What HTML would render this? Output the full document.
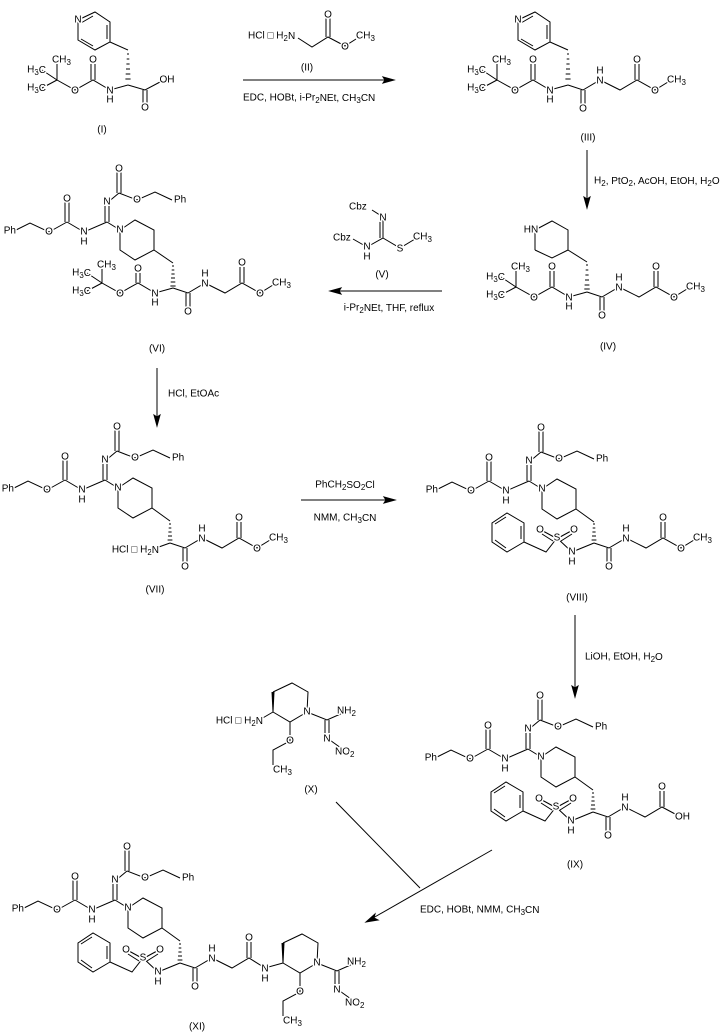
<!DOCTYPE html>
<html><head><meta charset="utf-8"><style>
html,body{margin:0;padding:0;background:#fff;}
svg{display:block;}
text{font-family:"Liberation Sans",sans-serif;font-size:10px;fill:#000;text-anchor:middle;dominant-baseline:central;stroke:#fff;stroke-width:3px;paint-order:stroke;stroke-linejoin:round;}
text.s{text-anchor:start;}
text.e{text-anchor:end;}
text.n{stroke:none;}
path,line{stroke:#000;stroke-width:1;fill:none;}
.f{fill:#000;}
</style></head><body>
<svg width="721" height="1036" viewBox="0 0 721 1036" xmlns="http://www.w3.org/2000/svg">

<!-- ========== (I) alpha (128,85) ========== -->
<g transform="translate(128,85)">
<path d="M0,-35 L-18,-43 M-18,-43 L-18,-63 L-33,-73 L-50,-65 L-50,-45 L-33,-35 Z M-21,-46 L-21,-60 M-35,-39 L-47,-46 M-35,-69 L-47,-62"/>
<path d="M-1,-31h2 M-1.3,-26h2.6 M-1.6,-21h3.2 M-2,-16h4 M-2.3,-11h4.6 M-2.6,-6h5.2"/>
<path d="M0,0 L-18,5 L-35,-5 L-53,5 L-71,-5 L-71,-21 M-71,-5 L-86,-15 M-71,-5 L-86,3 M-37,-5 L-37,-21 M-33,-5 L-33,-21"/>
<path d="M0,0 L17,5 L32,-3 M15,5 L15,20 M19,5 L19,20"/>
<text x="-50" y="-65">N</text>
<text x="-18" y="6">N</text><text x="-18" y="15">H</text>
<text x="-35" y="-25">O</text><text x="-53" y="6">O</text>
<text class="s" x="-76" y="-25">CH<tspan dy="2" font-size="8">3</tspan></text>
<text class="e" x="-82" y="-15">H<tspan dy="2" font-size="8">3</tspan><tspan dy="-2">C</tspan></text>
<text class="e" x="-82" y="3">H<tspan dy="2" font-size="8">3</tspan><tspan dy="-2">C</tspan></text>
<text x="17" y="23">O</text><text x="39" y="-5">OH</text>
</g>
<text class="n" x="102" y="130">(I)</text>

<!-- ========== (II) + arrow ========== -->
<text class="s" x="248" y="36">HCl □ H<tspan dy="2" font-size="8">2</tspan><tspan dy="-2">N</tspan></text>
<path d="M298,38 L312,47 L328,37 L345,46 L356,39 M326,37 L326,18 M330,37 L330,18"/>
<text x="328" y="15">O</text><text x="345" y="47">O</text>
<text class="s" x="356" y="36">CH<tspan dy="2" font-size="8">3</tspan></text>
<text class="n" x="307" y="68">(II)</text>
<line x1="243" y1="80" x2="388" y2="80"/><path class="f" d="M394,80 L383,77 L385,80 L383,83 Z"/>
<text class="s n" x="243" y="98">EDC, HOBt, i-Pr<tspan dy="2" font-size="8">2</tspan><tspan dy="-2">NEt, CH</tspan><tspan dy="2" font-size="8">3</tspan><tspan dy="-2">CN</tspan></text>

<!-- ========== (III) alpha (568,85) ========== -->
<g transform="translate(568,85)">
<path d="M0,-35 L-18,-43 M-18,-43 L-18,-63 L-33,-73 L-50,-65 L-50,-45 L-33,-35 Z M-21,-46 L-21,-60 M-35,-39 L-47,-46 M-35,-69 L-47,-62"/>
<path d="M-1,-31h2 M-1.3,-26h2.6 M-1.6,-21h3.2 M-2,-16h4 M-2.3,-11h4.6 M-2.6,-6h5.2"/>
<path d="M0,0 L-18,5 L-35,-5 L-53,5 L-71,-5 L-71,-21 M-71,-5 L-86,-15 M-71,-5 L-86,3 M-37,-5 L-37,-21 M-33,-5 L-33,-21"/>
<path d="M0,0 L15,5 L32,-5 L52,5 L69,-5 L87,5 L100,-3 M13,5 L13,20 M17,5 L17,20 M67,-5 L67,-21 M71,-5 L71,-21"/>
<text x="-50" y="-65">N</text>
<text x="-18" y="6">N</text><text x="-18" y="15">H</text>
<text x="-35" y="-25">O</text><text x="-53" y="6">O</text>
<text class="s" x="-76" y="-25">CH<tspan dy="2" font-size="8">3</tspan></text>
<text class="e" x="-82" y="-15">H<tspan dy="2" font-size="8">3</tspan><tspan dy="-2">C</tspan></text>
<text class="e" x="-82" y="3">H<tspan dy="2" font-size="8">3</tspan><tspan dy="-2">C</tspan></text>
<text x="15" y="24">O</text><text x="32" y="-4">N</text><text x="32" y="-14">H</text>
<text x="69" y="-25">O</text><text x="87" y="6">O</text>
<text class="s" x="99" y="-5">CH<tspan dy="2" font-size="8">3</tspan></text>
</g>
<text class="n" x="588" y="138">(III)</text>

<!-- arrow III->IV -->
<line x1="587" y1="150" x2="587" y2="202"/><path class="f" d="M587,208 L584,197 L587,199 L590,197 Z"/>
<text class="s n" x="594" y="181">H<tspan dy="2" font-size="8">2</tspan><tspan dy="-2">, PtO</tspan><tspan dy="2" font-size="8">2</tspan><tspan dy="-2">, AcOH, EtOH, H</tspan><tspan dy="2" font-size="8">2</tspan><tspan dy="-2">O</tspan></text>

<!-- ========== (IV) alpha (587,292) ========== -->
<g transform="translate(587,292)">
<path d="M0,-30 L-19,-42 L-19,-62 L-35,-71 L-52,-62 M-52,-42 L-35,-34 L-19,-42 M-52,-62 L-52,-42"/>
<path d="M-1,-27h2 M-1.3,-22h2.6 M-1.6,-17h3.2 M-2,-12h4 M-2.4,-7h4.8 M-2.7,-3h5.4"/>
<path d="M0,0 L-18,5 L-35,-5 L-53,5 L-71,-5 L-71,-21 M-71,-5 L-86,-15 M-71,-5 L-86,3 M-37,-5 L-37,-21 M-33,-5 L-33,-21"/>
<path d="M0,0 L15,5 L32,-5 L52,5 L69,-5 L87,5 L100,-3 M13,5 L13,20 M17,5 L17,20 M67,-5 L67,-21 M71,-5 L71,-21"/>
<text x="-56" y="-62">HN</text>
<text x="-18" y="6">N</text><text x="-18" y="15">H</text>
<text x="-35" y="-25">O</text><text x="-53" y="6">O</text>
<text class="s" x="-76" y="-25">CH<tspan dy="2" font-size="8">3</tspan></text>
<text class="e" x="-82" y="-15">H<tspan dy="2" font-size="8">3</tspan><tspan dy="-2">C</tspan></text>
<text class="e" x="-82" y="3">H<tspan dy="2" font-size="8">3</tspan><tspan dy="-2">C</tspan></text>
<text x="15" y="24">O</text><text x="32" y="-4">N</text><text x="32" y="-14">H</text>
<text x="69" y="-25">O</text><text x="87" y="6">O</text>
<text class="s" x="99" y="-5">CH<tspan dy="2" font-size="8">3</tspan></text>
</g>
<text class="n" x="608" y="347">(IV)</text>

<!-- ========== (V) + arrow ========== -->
<path d="M372,210 L383,217 M383,220 L383,238 M380,220 L380,238 M383,238 L367,247 M367,247 L353,239 M383,238 L400,248 L415,239"/>
<text class="s" x="349" y="207">Cbz</text><text x="383" y="218">N</text>
<text class="s" x="333" y="238">Cbz</text><text x="367" y="247">N</text><text x="367" y="257">H</text>
<text x="400" y="249">S</text><text class="s" x="413" y="237">CH<tspan dy="2" font-size="8">3</tspan></text>
<text class="n" x="382" y="275">(V)</text>
<line x1="336" y1="291" x2="442" y2="291"/><path class="f" d="M330,291 L341,288 L339,291 L341,294 Z"/>
<text class="n" x="389" y="308">i-Pr<tspan dy="2" font-size="8">2</tspan><tspan dy="-2">NEt, THF, reflux</tspan></text>

<!-- ========== (VI) pip N (120,230) ========== -->
<g transform="translate(120,230)">
<path d="M0,0 L15,-10 L34,0 L34,20 L15,30 L0,20 Z M34,20 L53,33"/>
<path d="M0,0 L-13,-8 M-15,-8 L-15,-27 M-11,-8 L-11,-27 M-13,-27 L-1,-37 M-3,-37 L-3,-58 M1,-37 L1,-58 M-1,-37 L17,-30 L35,-38 L52,-30 M-13,-8 L-36,2 L-53,-8 M-55,-8 L-55,-28 M-51,-8 L-51,-28 M-53,-8 L-71,2 L-90,-7 L-106,1"/>
<text x="0" y="0">N</text><text x="-13" y="-28">N</text><text x="-1" y="-61">O</text><text x="17" y="-30">O</text><text class="s" x="54" y="-30">Ph</text>
<text x="-36" y="2">N</text><text x="-36" y="12">H</text><text x="-53" y="-31">O</text><text x="-71" y="2">O</text><text class="e" x="-104" y="1">Ph</text>
<g transform="translate(53,58)">
<path d="M-1,-22h2 M-1.3,-18h2.6 M-1.6,-14h3.2 M-2,-10h4 M-2.3,-6h4.6 M-2.6,-2h5.2"/>
<path d="M0,0 L-18,5 L-35,-5 L-53,5 L-71,-5 L-71,-19 M-71,-5 L-86,-15 M-71,-5 L-86,3 M-37,-5 L-37,-15 M-33,-5 L-33,-15"/>
<path d="M0,0 L15,5 L32,-5 L52,5 L69,-5 L87,5 L100,-3 M13,5 L13,20 M17,5 L17,20 M67,-5 L67,-21 M71,-5 L71,-21"/>
<text x="-18" y="6">N</text><text x="-18" y="15">H</text>
<text x="-35" y="-19">O</text><text x="-53" y="6">O</text>
<text class="s" x="-76" y="-23">CH<tspan dy="2" font-size="8">3</tspan></text>
<text class="e" x="-82" y="-15">H<tspan dy="2" font-size="8">3</tspan><tspan dy="-2">C</tspan></text>
<text class="e" x="-82" y="3">H<tspan dy="2" font-size="8">3</tspan><tspan dy="-2">C</tspan></text>
<text x="15" y="24">O</text><text x="32" y="-4">N</text><text x="32" y="-14">H</text>
<text x="69" y="-25">O</text><text x="87" y="6">O</text>
<text class="s" x="99" y="-5">CH<tspan dy="2" font-size="8">3</tspan></text>
</g>
</g>
<text class="n" x="157" y="349">(VI)</text>

<!-- arrow VI->VII -->
<line x1="157" y1="368" x2="157" y2="420"/><path class="f" d="M157,426 L154,415 L157,417 L160,415 Z"/>
<text class="s n" x="168" y="394">HCl, EtOAc</text>

<!-- ========== (VII) pip N (118,488) ========== -->
<g transform="translate(118,488)">
<path d="M0,0 L15,-10 L34,0 L34,20 L15,30 L0,20 Z M34,20 L52,33"/>
<path d="M0,0 L-13,-8 M-15,-8 L-15,-27 M-11,-8 L-11,-27 M-13,-27 L-1,-37 M-3,-37 L-3,-58 M1,-37 L1,-58 M-1,-37 L17,-30 L35,-38 L52,-30 M-13,-8 L-36,2 L-53,-8 M-55,-8 L-55,-28 M-51,-8 L-51,-28 M-53,-8 L-71,2 L-90,-7 L-106,1"/>
<text x="0" y="0">N</text><text x="-13" y="-28">N</text><text x="-1" y="-61">O</text><text x="17" y="-30">O</text><text class="s" x="54" y="-30">Ph</text>
<text x="-36" y="2">N</text><text x="-36" y="12">H</text><text x="-53" y="-31">O</text><text x="-71" y="2">O</text><text class="e" x="-104" y="1">Ph</text>
<g transform="translate(52,55)">
<path d="M-1,-19h2 M-1.3,-15h2.6 M-1.6,-11h3.2 M-2,-7h4 M-2.4,-3h4.8"/>
<path d="M0,0 L-14,5"/>
<path d="M0,0 L15,5 L32,-5 L52,5 L69,-5 L87,5 L100,-3 M13,5 L13,20 M17,5 L17,20 M67,-5 L67,-21 M71,-5 L71,-21"/>
<text class="e" x="-11" y="7">HCl □ H<tspan dy="2" font-size="8">2</tspan><tspan dy="-2">N</tspan></text>
<text x="15" y="24">O</text><text x="32" y="-4">N</text><text x="32" y="-14">H</text>
<text x="69" y="-25">O</text><text x="87" y="6">O</text>
<text class="s" x="99" y="-5">CH<tspan dy="2" font-size="8">3</tspan></text>
</g>
</g>
<text class="n" x="155" y="590">(VII)</text>

<!-- arrow VII->VIII -->
<line x1="301" y1="500" x2="389" y2="500"/><path class="f" d="M395,500 L384,497 L386,500 L384,503 Z"/>
<text class="n" x="345" y="485">PhCH<tspan dy="2" font-size="8">2</tspan><tspan dy="-2">SO</tspan><tspan dy="2" font-size="8">2</tspan><tspan dy="-2">Cl</tspan></text>
<text class="n" x="345" y="518">NMM, CH<tspan dy="2" font-size="8">3</tspan><tspan dy="-2">CN</tspan></text>

<!-- ========== (VIII) pip N (542,489) ========== -->
<g transform="translate(542,489)">
<path d="M0,0 L15,-10 L34,0 L34,20 L15,30 L0,20 Z M34,20 L52,33"/>
<path d="M0,0 L-13,-8 M-15,-8 L-15,-27 M-11,-8 L-11,-27 M-13,-27 L-1,-37 M-3,-37 L-3,-58 M1,-37 L1,-58 M-1,-37 L17,-30 L35,-38 L52,-30 M-13,-8 L-36,2 L-53,-8 M-55,-8 L-55,-28 M-51,-8 L-51,-28 M-53,-8 L-71,2 L-90,-7 L-106,1"/>
<text x="0" y="0">N</text><text x="-13" y="-28">N</text><text x="-1" y="-61">O</text><text x="17" y="-30">O</text><text class="s" x="54" y="-30">Ph</text>
<text x="-36" y="2">N</text><text x="-36" y="12">H</text><text x="-53" y="-31">O</text><text x="-71" y="2">O</text><text class="e" x="-104" y="1">Ph</text>
<g transform="translate(52,54)">
<path d="M-1,-19h2 M-1.3,-15h2.6 M-1.6,-11h3.2 M-2,-7h4 M-2.4,-3h4.8"/>
<path d="M0,0 L-22,9 L-37,-5 L-48,9 L-70,-1 M-70,-1 L-70,-20 L-87,-30 L-102,-20 L-102,-1 L-87,9 Z M-73,-4 L-73,-17 M-88,-26 L-99,-19 M-99,-3 L-88,5 M-40,-6 L-51,-12 M-41,-2 L-52,-9 M-34,-6 L-23,-12 M-33,-2 L-22,-9"/>
<path d="M0,0 L15,5 L32,-5 L52,5 L69,-5 L87,5 L100,-3 M13,5 L13,20 M17,5 L17,20 M67,-5 L67,-21 M71,-5 L71,-21"/>
<text x="-22" y="9">N</text><text x="-22" y="19">H</text><text x="-37" y="-5">S</text>
<text x="-54" y="-13">O</text><text x="-20" y="-13">O</text>
<text x="15" y="24">O</text><text x="32" y="-4">N</text><text x="32" y="-14">H</text>
<text x="69" y="-25">O</text><text x="87" y="6">O</text>
<text class="s" x="99" y="-5">CH<tspan dy="2" font-size="8">3</tspan></text>
</g>
</g>
<text class="n" x="577" y="598">(VIII)</text>

<!-- arrow VIII->IX -->
<line x1="575" y1="615" x2="575" y2="691"/><path class="f" d="M575,697 L572,686 L575,688 L578,686 Z"/>
<text class="s n" x="585" y="657">LiOH, EtOH, H<tspan dy="2" font-size="8">2</tspan><tspan dy="-2">O</tspan></text>

<!-- ========== (IX) pip N (541,757) ========== -->
<g transform="translate(541,757)">
<path d="M0,0 L15,-10 L34,0 L34,20 L15,30 L0,20 Z M34,20 L52,33"/>
<path d="M0,0 L-13,-8 M-15,-8 L-15,-27 M-11,-8 L-11,-27 M-13,-27 L-1,-37 M-3,-37 L-3,-58 M1,-37 L1,-58 M-1,-37 L17,-30 L35,-38 L52,-30 M-13,-8 L-36,2 L-53,-8 M-55,-8 L-55,-28 M-51,-8 L-51,-28 M-53,-8 L-71,2 L-90,-7 L-106,1"/>
<text x="0" y="0">N</text><text x="-13" y="-28">N</text><text x="-1" y="-61">O</text><text x="17" y="-30">O</text><text class="s" x="54" y="-30">Ph</text>
<text x="-36" y="2">N</text><text x="-36" y="12">H</text><text x="-53" y="-31">O</text><text x="-71" y="2">O</text><text class="e" x="-104" y="1">Ph</text>
<g transform="translate(52,55)">
<path d="M-1,-19h2 M-1.3,-15h2.6 M-1.6,-11h3.2 M-2,-7h4 M-2.4,-3h4.8"/>
<path d="M0,0 L-22,9 L-37,-5 L-48,9 L-70,-1 M-70,-1 L-70,-20 L-87,-30 L-102,-20 L-102,-1 L-87,9 Z M-73,-4 L-73,-17 M-88,-26 L-99,-19 M-99,-3 L-88,5 M-40,-6 L-51,-12 M-41,-2 L-52,-9 M-34,-6 L-23,-12 M-33,-2 L-22,-9"/>
<path d="M0,0 L15,5 L32,-5 L52,5 L69,-5 L84,3 M13,5 L13,20 M17,5 L17,20 M67,-5 L67,-21 M71,-5 L71,-21"/>
<text x="-22" y="9">N</text><text x="-22" y="19">H</text><text x="-37" y="-5">S</text>
<text x="-54" y="-13">O</text><text x="-20" y="-13">O</text>
<text x="15" y="24">O</text><text x="32" y="-4">N</text><text x="32" y="-14">H</text>
<text x="69" y="-25">O</text><text class="s" x="82" y="5">OH</text>
</g>
</g>
<text class="n" x="575" y="865">(IX)</text>

<!-- ========== (X) C3 (273,712) ========== -->
<g transform="translate(273,712)">
<path d="M0,-20 L19,-29 L35,-20 L34,0 L17,10 L0,0 M17,10 L17,29 L0,38 L0,53 M34,0 L54,8 L72,0 M52,8 L52,26 M56,8 L56,26 M54,26 L68,36"/>
<path class="f" d="M-1.5,-20 L1.5,-20 L0.5,0 L-0.5,0 Z" style="stroke:none"/>
<path d="M0,0 L-12,7"/>
<text x="34" y="0">N</text><text x="17" y="29">O</text>
<text class="s" x="0" y="58">CH<tspan dy="2" font-size="8">3</tspan></text>
<text class="s" x="64" y="-1">NH<tspan dy="2" font-size="8">2</tspan></text>
<text x="54" y="27">N</text>
<text class="s" x="62" y="40">NO<tspan dy="2" font-size="8">2</tspan></text>
<text class="e" x="-10" y="9">HCl □ H<tspan dy="2" font-size="8">2</tspan><tspan dy="-2">N</tspan></text>
</g>
<text class="n" x="311" y="790">(X)</text>

<!-- converging arrow -->
<line x1="336" y1="802" x2="420" y2="888"/>
<line x1="492" y1="850" x2="373" y2="918"/><path class="f" d="M366,922 L375,914 L374,918 L378,920 Z"/>
<text class="s n" x="420" y="910">EDC, HOBt, NMM, CH<tspan dy="2" font-size="8">3</tspan><tspan dy="-2">CN</tspan></text>

<!-- ========== (XI) pip N (128,908) ========== -->
<g transform="translate(128,908)">
<path d="M0,0 L15,-10 L34,0 L34,20 L15,30 L0,20 Z M34,20 L52,33"/>
<path d="M0,0 L-13,-8 M-15,-8 L-15,-27 M-11,-8 L-11,-27 M-13,-27 L-1,-37 M-3,-37 L-3,-58 M1,-37 L1,-58 M-1,-37 L17,-30 L35,-38 L52,-30 M-13,-8 L-36,2 L-53,-8 M-55,-8 L-55,-28 M-51,-8 L-51,-28 M-53,-8 L-71,2 L-90,-7 L-106,1"/>
<text x="0" y="0">N</text><text x="-13" y="-28">N</text><text x="-1" y="-61">O</text><text x="17" y="-30">O</text><text class="s" x="54" y="-30">Ph</text>
<text x="-36" y="2">N</text><text x="-36" y="12">H</text><text x="-53" y="-31">O</text><text x="-71" y="2">O</text><text class="e" x="-104" y="1">Ph</text>
<g transform="translate(52,55)">
<path d="M-1,-19h2 M-1.3,-15h2.6 M-1.6,-11h3.2 M-2,-7h4 M-2.4,-3h4.8"/>
<path d="M0,0 L-22,9 L-37,-5 L-48,9 L-70,-1 M-70,-1 L-70,-20 L-87,-30 L-102,-20 L-102,-1 L-87,9 Z M-73,-4 L-73,-17 M-88,-26 L-99,-19 M-99,-3 L-88,5 M-40,-6 L-51,-12 M-41,-2 L-52,-9 M-34,-6 L-23,-12 M-33,-2 L-22,-9"/>
<path d="M0,0 L15,5 L32,-5 L52,5 L69,-5 L85,5 L103,0 M13,5 L13,20 M17,5 L17,20 M67,-5 L67,-21 M71,-5 L71,-21"/>
<text x="-22" y="9">N</text><text x="-22" y="19">H</text><text x="-37" y="-5">S</text>
<text x="-54" y="-13">O</text><text x="-20" y="-13">O</text>
<text x="15" y="24">O</text><text x="32" y="-4">N</text><text x="32" y="-14">H</text>
<text x="69" y="-25">O</text><text x="85" y="6">N</text><text x="85" y="16">H</text>
<g transform="translate(103,0)">
<path d="M0,-20 L19,-29 L35,-20 L34,0 L17,10 L0,0 M17,10 L17,29 L0,38 L0,53 M34,0 L54,8 L72,0 M52,8 L52,26 M56,8 L56,26 M54,26 L68,36"/>
<path class="f" d="M-1.5,-20 L1.5,-20 L0.5,0 L-0.5,0 Z" style="stroke:none"/>
<text x="34" y="0">N</text><text x="17" y="29">O</text>
<text class="s" x="0" y="58">CH<tspan dy="2" font-size="8">3</tspan></text>
<text class="s" x="64" y="-1">NH<tspan dy="2" font-size="8">2</tspan></text>
<text x="54" y="27">N</text>
<text class="s" x="62" y="40">NO<tspan dy="2" font-size="8">2</tspan></text>
</g>
</g>
</g>
<text class="n" x="197" y="1027">(XI)</text>

</svg>
</body></html>
